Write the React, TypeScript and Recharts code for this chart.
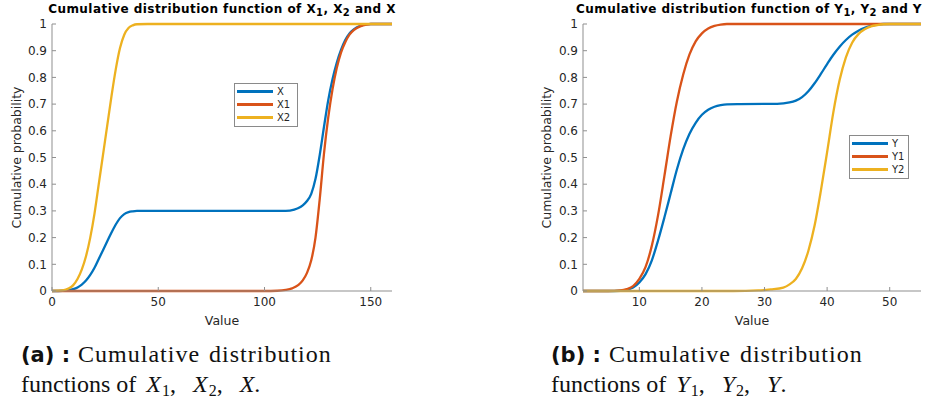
import React from "react";
import { Legend, Line, LineChart, XAxis, YAxis } from "recharts";

// ---- data ----
const yTicks = [0, 0.1, 0.2, 0.3, 0.4, 0.5, 0.6, 0.7, 0.8, 0.9, 1];
const xTicksA = [0, 50, 100, 150];
const xTicksB = [10, 20, 30, 40, 50];

// panel (a)
const x2Values = [0, 5, 8, 10, 12, 14, 16, 18, 20, 22, 24, 26, 28, 30, 32, 34, 36, 38, 40, 45, 160];
const x2Probs = [0, 0.002, 0.01, 0.022, 0.045, 0.08, 0.13, 0.2, 0.29, 0.4, 0.51, 0.62, 0.73, 0.83, 0.91, 0.96, 0.985, 0.995, 0.999, 1, 1];

const x1Values = [0, 100, 106, 110, 113, 116, 118, 120, 122, 124, 126, 128, 130, 132, 134, 136, 138, 140, 142, 145, 148, 150, 160];
const x1Probs = [0, 0, 0.001, 0.004, 0.01, 0.023, 0.04, 0.068, 0.115, 0.2, 0.345, 0.515, 0.65, 0.755, 0.835, 0.893, 0.932, 0.96, 0.977, 0.991, 0.998, 1, 1];

const xValues = [0, 5, 8, 10, 12, 14, 16, 18, 20, 22, 24, 26, 28, 30, 32, 34, 36, 38, 40, 45, 100, 110, 114, 116, 118, 120, 122, 124, 126, 128, 130, 132, 134, 136, 138, 140, 142, 145, 148, 150, 160];
const xProbs = [0, 0.001, 0.003, 0.007, 0.0135, 0.024, 0.039, 0.06, 0.087, 0.12, 0.153, 0.186, 0.219, 0.249, 0.273, 0.288, 0.2955, 0.2985, 0.3, 0.3, 0.3, 0.3, 0.305, 0.311, 0.321, 0.337, 0.364, 0.42, 0.51, 0.615, 0.715, 0.793, 0.855, 0.903, 0.94, 0.965, 0.98, 0.993, 0.999, 1, 1];

// panel (b)
const y1Values = [1, 5, 7, 8, 9, 10, 11, 12, 13, 14, 15, 16, 17, 18, 19, 20, 21, 22, 23, 24, 55];
const y1Probs = [0, 0, 0.002, 0.007, 0.018, 0.045, 0.09, 0.17, 0.285, 0.43, 0.58, 0.71, 0.81, 0.885, 0.935, 0.965, 0.983, 0.993, 0.998, 1, 1];

const y2Values = [1, 25, 29, 31, 33, 34, 35, 36, 37, 38, 39, 40, 41, 42, 43, 44, 45, 46, 47, 48, 49, 50, 55];
const y2Probs = [0, 0, 0.002, 0.006, 0.013, 0.025, 0.045, 0.085, 0.15, 0.245, 0.375, 0.52, 0.67, 0.79, 0.875, 0.93, 0.962, 0.98, 0.991, 0.996, 0.999, 1, 1];

const yValues = [1, 5, 7, 8, 9, 10, 11, 12, 13, 14, 15, 16, 17, 18, 19, 20, 21, 22, 23, 24, 26, 32, 34, 35, 36, 37, 38, 39, 40, 41, 42, 43, 44, 45, 46, 47, 48, 49, 55];
const yProbs = [0, 0, 0.001, 0.004, 0.013, 0.032, 0.063, 0.115, 0.19, 0.275, 0.365, 0.455, 0.53, 0.588, 0.63, 0.66, 0.679, 0.69, 0.696, 0.699, 0.7, 0.701, 0.706, 0.713, 0.726, 0.748, 0.778, 0.813, 0.85, 0.885, 0.915, 0.94, 0.96, 0.975, 0.986, 0.993, 0.998, 1, 1];

const BLUE = "#0072BD";
const ORANGE = "#D95319";
const YELLOW = "#EDB120";
const AXIS = "#8f8f8f";
const TEXT = "#262626";
const SANS = "DejaVu Sans, Verdana, sans-serif";
const SERIF = "Liberation Serif, Times New Roman, serif";

const toPoints = (vals: number[], probs: number[]) => vals.map((v, i) => ({ v, p: probs[i] }));

type Series = { name: string; color: string; data: { v: number; p: number }[] };

function LegendBox({ payload, left, top, width }: any) {
  return (
    <div
      style={{
        position: "absolute",
        left,
        top,
        width,
        border: "1px solid #8a8a8a",
        background: "#fff",
        padding: "1px 0 2px 0",
        fontFamily: SANS,
        fontSize: 10,
        color: TEXT,
      }}
    >
      {(payload || []).map((e: any) => (
        <div key={e.value} style={{ display: "flex", alignItems: "center", height: 13 }}>
          <span style={{ display: "inline-block", width: 36, height: 2.5, background: e.color, marginLeft: 2, marginRight: 4 }} />
          <span>{e.value}</span>
        </div>
      ))}
    </div>
  );
}

function Panel({
  series,
  domain,
  xTicks,
  width,
  yAxisWidth,
  right,
  legend,
}: {
  series: Series[];
  domain: [number, number];
  xTicks: number[];
  width: number;
  yAxisWidth: number;
  right: number;
  legend: { left: number; top: number; width: number };
}) {
  return (
    <LineChart width={width} height={330} margin={{ top: 24, right, bottom: 0, left: 0 }}>
      <XAxis
        xAxisId="b"
        dataKey="v"
        type="number"
        domain={domain}
        ticks={xTicks}
        allowDataOverflow
        height={39}
        stroke={AXIS}
        tickSize={-4}
        tickMargin={10}
        tick={{ fill: TEXT, fontSize: 12, fontFamily: SANS }}
        label={{ value: "Value", position: "insideBottom", offset: 5, fill: TEXT, fontSize: 12.5, fontFamily: SANS }}
      />
      <XAxis
        xAxisId="t"
        orientation="top"
        dataKey="v"
        type="number"
        domain={domain}
        ticks={xTicks}
        allowDataOverflow
        height={0}
        stroke={AXIS}
        tickSize={-4}
        tick={false}
      />
      <YAxis
        yAxisId="l"
        domain={[0, 1]}
        ticks={yTicks}
        width={yAxisWidth}
        stroke={AXIS}
        tickSize={-4}
        tickMargin={9}
        tick={{ fill: TEXT, fontSize: 12, fontFamily: SANS }}
        label={{
          value: "Cumulative probability",
          angle: -90,
          position: "insideLeft",
          offset: 17,
          fill: TEXT,
          fontSize: 12.5,
          fontFamily: SANS,
          style: { textAnchor: "middle" },
        }}
      />
      <YAxis yAxisId="r" orientation="right" domain={[0, 1]} ticks={yTicks} width={0} stroke={AXIS} tickSize={-4} tick={false} />
      {series.map((s) => (
        <Line
          key={s.name}
          xAxisId="b"
          yAxisId="l"
          data={s.data}
          dataKey="p"
          name={s.name}
          type="monotone"
          stroke={s.color}
          strokeWidth={2.3}
          dot={false}
          isAnimationActive={false}
        />
      ))}
      <Legend
        layout="vertical"
        align="center"
        verticalAlign="middle"
        wrapperStyle={{ left: 0, top: 0, width: 0, height: 0 }}
        content={(props: any) => <LegendBox payload={props.payload} {...legend} />}
      />
    </LineChart>
  );
}

const seriesA: Series[] = [
  { name: "X", color: BLUE, data: toPoints(xValues, xProbs) },
  { name: "X1", color: ORANGE, data: toPoints(x1Values, x1Probs) },
  { name: "X2", color: YELLOW, data: toPoints(x2Values, x2Probs) },
];

const seriesB: Series[] = [
  { name: "Y", color: BLUE, data: toPoints(yValues, yProbs) },
  { name: "Y1", color: ORANGE, data: toPoints(y1Values, y1Probs) },
  { name: "Y2", color: YELLOW, data: toPoints(y2Values, y2Probs) },
];

const subStyle: React.CSSProperties = { fontSize: 10, verticalAlign: -3 };
const mSub: React.CSSProperties = { fontSize: 16, verticalAlign: -4, fontStyle: "normal", marginLeft: 1 };

function Title({ v, center }: { v: string; center: number }) {
  return (
    <div
      style={{
        position: "absolute",
        left: center - 250,
        width: 500,
        top: 2,
        textAlign: "center",
        whiteSpace: "nowrap",
        fontFamily: SANS,
        fontWeight: "bold",
        fontSize: 12,
        letterSpacing: 0.45,
        color: "#000",
      }}
    >
      Cumulative distribution function of {v}
      <span style={subStyle}>1</span>, {v}
      <span style={subStyle}>2</span> and {v}
    </div>
  );
}

function Caption({ tag, v, left }: { tag: string; v: string; left: number }) {
  return (
    <div style={{ position: "absolute", left, top: 340, fontFamily: SERIF, fontSize: 24, lineHeight: "29px", color: "#111", whiteSpace: "nowrap" }}>
      <div>
        <span style={{ fontFamily: SANS, fontWeight: "bold", fontSize: 21 }}>({tag}) :</span>
        <span style={{ marginLeft: 8, letterSpacing: 1 }}>Cumulative</span>
        <span style={{ marginLeft: 9, letterSpacing: 1 }}>distribution</span>
      </div>
      <div>
        functions of<i style={{ marginLeft: 10 }}>{v}</i>
        <span style={mSub}>1</span>,<i style={{ marginLeft: 17 }}>{v}</i>
        <span style={mSub}>2</span>,<i style={{ marginLeft: 17 }}>{v}</i>.
      </div>
    </div>
  );
}

export default function App() {
  return (
    <div style={{ position: "fixed", left: 0, top: 0, width: 925, height: 401, overflow: "hidden", background: "#fff" }}>
      <div style={{ position: "absolute", left: 0, top: 0 }}>
        <Panel
          series={seriesA}
          domain={[0, 160]}
          xTicks={xTicksA}
          width={400}
          yAxisWidth={52}
          right={8}
          legend={{ left: 234, top: 83, width: 62 }}
        />
      </div>
      <div style={{ position: "absolute", left: 530, top: 0 }}>
        <Panel
          series={seriesB}
          domain={[1, 55]}
          xTicks={xTicksB}
          width={395}
          yAxisWidth={53}
          right={4}
          legend={{ left: 319, top: 135, width: 58 }}
        />
      </div>
      <Title v="X" center={222} />
      <Title v="Y" center={749} />
      <Caption tag="a" v="X" left={21} />
      <Caption tag="b" v="Y" left={551} />
    </div>
  );
}
